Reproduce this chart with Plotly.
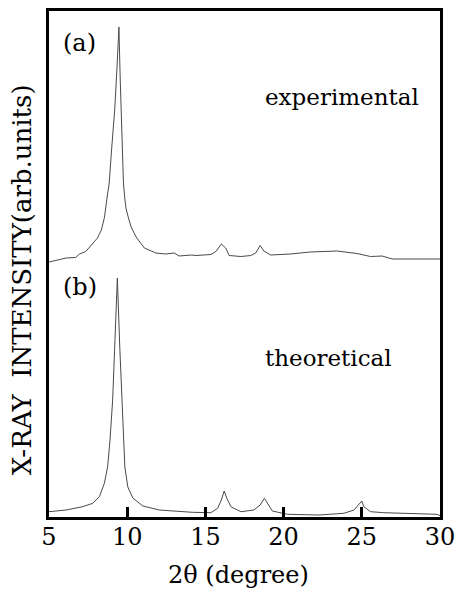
import plotly.graph_objects as go

# Experimental pattern (a): 2θ (degree) and intensity (arb. units)
exp_2theta = [5.0, 5.5, 6.1, 6.7, 6.95, 7.35, 7.7, 8.1, 8.35, 8.55, 8.7, 8.85, 9.0, 9.2, 9.35, 9.47,
              9.55, 9.62, 9.68, 9.76, 9.85, 9.93, 10.1, 10.25, 10.57, 11.1, 11.83, 12.47, 13.0, 13.32, 14.1,
              14.4, 15.35, 15.67, 16.02, 16.3, 16.52, 17.27, 17.9, 18.22, 18.5, 18.74, 19.17,
              20.45, 21.7, 22.26, 23.4, 24.7, 25.55, 26.3, 26.95, 30.0]
exp_int = [255, 257, 259, 259.5, 263, 265.5, 272, 279, 287, 300, 318, 334, 367, 407, 450, 490,
           440, 400, 367, 334, 318, 308, 298, 290, 280, 269, 264, 263, 264, 261, 262,
           261.5, 262.5, 265.5, 273, 269, 261.5, 260.5, 261.5, 264, 271.5, 266, 262,
           263, 265, 265.5, 266, 263.5, 260.5, 261, 258, 258]

# Theoretical pattern (b)
th_2theta = [5.0, 6.1, 7.15, 7.8, 8.22, 8.54, 8.75, 8.9, 9.07, 9.2, 9.37, 9.52, 9.68, 9.72,
             9.85, 10.04, 10.36, 11.0, 12.05, 14.17, 15.35, 15.78, 16.02, 16.2, 16.37, 16.63,
             17.27, 18.1, 18.5, 18.77, 18.97, 19.28, 20.25, 22.26, 23.85, 24.5, 25.0, 25.13,
             25.56, 26.4, 29.8, 30.0]
th_int = [5.3, 7, 10.3, 13.7, 20.3, 33.7, 50.3, 77, 117, 172, 239, 172, 107, 84,
          50, 30, 19, 11, 7, 4.7, 4.3, 8.7, 17, 26, 18.7, 10.3,
          5.3, 7, 12, 18.7, 13.7, 6, 2.7, 2, 3.7, 7, 16, 10.3,
          5.3, 4.3, 2.7, 1.5]

x_ticks = [5, 10, 15, 20, 25, 30]

SERIF = "DejaVu Serif"
LINE = "#4a4a4a"

fig = go.Figure()
fig.add_trace(go.Scatter(x=exp_2theta, y=exp_int, mode="lines",
                         line=dict(color=LINE, width=1), showlegend=False))
fig.add_trace(go.Scatter(x=th_2theta, y=th_int, mode="lines",
                         line=dict(color=LINE, width=1), showlegend=False))

fig.update_layout(
    width=455, height=592,
    margin=dict(l=49, r=15, t=11, b=75),
    plot_bgcolor="white", paper_bgcolor="white",
    font=dict(family=SERIF, color="black", size=24),
    xaxis=dict(range=[5, 30], tickvals=x_ticks, ticks="inside", ticklen=10,
               tickwidth=3, tickcolor="black", showline=True, linewidth=3,
               linecolor="black", mirror=True, showgrid=False, zeroline=False,
               ticklabelstandoff=-4, ticklabeloverflow="allow", automargin=False,
               tickfont=dict(family=SERIF, size=24)),
    yaxis=dict(range=[0, 506], showticklabels=False, ticks="", showline=True,
               linewidth=3, linecolor="black", mirror=True, showgrid=False,
               zeroline=False, automargin=False),
    annotations=[
        dict(text="2θ (degree)", x=0.485, y=-0.146, xref="paper", yref="paper",
             showarrow=False, xanchor="center", yanchor="bottom",
             font=dict(family=SERIF, size=24)),
        dict(text="X-RAY  INTENSITY(arb.units)", x=-0.069, y=0.468, xref="paper",
             yref="paper", showarrow=False, textangle=-90, xanchor="center",
             yanchor="middle", font=dict(family=SERIF, size=26)),
        dict(text="(a)", x=0.079, y=0.937, xref="paper", yref="paper",
             showarrow=False, xanchor="center", yanchor="middle",
             font=dict(family=SERIF, size=24)),
        dict(text="(b)", x=0.079, y=0.455, xref="paper", yref="paper",
             showarrow=False, xanchor="center", yanchor="middle",
             font=dict(family=SERIF, size=24)),
        dict(text="experimental", x=0.749, y=0.83, xref="paper", yref="paper",
             showarrow=False, xanchor="center", yanchor="middle",
             font=dict(family=SERIF, size=23)),
        dict(text="theoretical", x=0.714, y=0.314, xref="paper", yref="paper",
             showarrow=False, xanchor="center", yanchor="middle",
             font=dict(family=SERIF, size=23)),
    ],
)

fig.write_html("out.html")
